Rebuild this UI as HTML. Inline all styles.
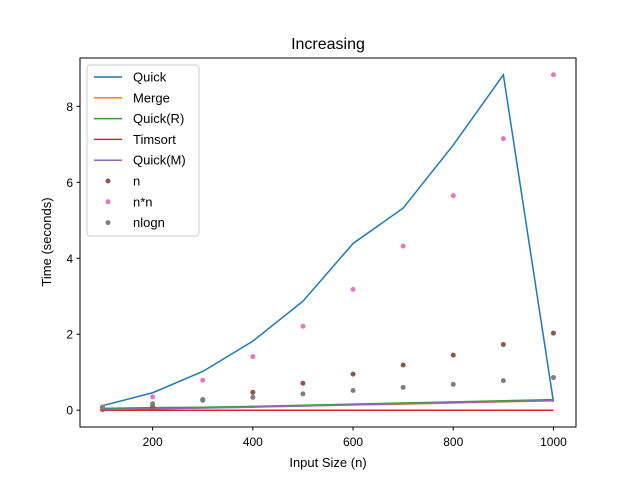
<!DOCTYPE html>
<html><head><meta charset="utf-8"><style>
body{margin:0;background:#fff}
svg{font-family:"Liberation Sans","DejaVu Sans",sans-serif}
</style></head><body>
<svg id="chart" width="640" height="480">
<rect width="640" height="480" fill="#fff"/>
<text x="328" y="49" text-anchor="middle" font-size="16">Increasing</text>
<g id="plot"></g>
<rect x="80" y="58" width="496" height="369" fill="none" stroke="#000" stroke-width="1"/>
<text x="328" y="467" text-anchor="middle" font-size="13">Input Size (n)</text>
<text transform="translate(51,242) rotate(-90)" text-anchor="middle" font-size="13">Time (seconds)</text>
<g id="legend"></g>
</svg>
<script>
const xs=[100,200,300,400,500,600,700,800,900,1000];
const quick=[0.12,0.46,1.02,1.82,2.87,4.39,5.32,6.98,8.83,0.22];
const merge=[0.02,0.04,0.06,0.09,0.11,0.14,0.16,0.19,0.22,0.25];
const quickR=[0.05,0.07,0.08,0.1,0.13,0.16,0.19,0.22,0.25,0.28];
const timsort=[0,0,0,0,0,0,0,0,0,0];
const quickM=[0.02,0.04,0.06,0.08,0.11,0.14,0.17,0.2,0.23,0.25];
const nDots=[0.02,0.1,0.28,0.47,0.71,0.95,1.19,1.45,1.73,2.03];
const nnDots=[0.09,0.35,0.79,1.41,2.21,3.18,4.32,5.65,7.15,8.83];
const nlognDots=[0.07,0.17,0.26,0.34,0.43,0.52,0.6,0.68,0.78,0.86];
const xTicks=[200,400,600,800,1000];
const yTicks=[0,2,4,6,8];
const X0=80,X1=576,Y0=427,Y1=58,xmin=55,xmax=1045,ymin=-0.4415,ymax=9.2715;
const sx=v=>X0+(v-xmin)/(xmax-xmin)*(X1-X0);
const sy=v=>Y0-(v-ymin)/(ymax-ymin)*(Y0-Y1);
const NS="http://www.w3.org/2000/svg";
const plot=document.getElementById('plot'),svg=document.getElementById('chart'),leg=document.getElementById('legend');
function mk(t,a,p){const e=document.createElementNS(NS,t);for(const k in a)e.setAttribute(k,a[k]);(p||plot).appendChild(e);return e;}
xTicks.forEach(t=>{const x=sx(t);
 const l=mk('line',{x1:x,x2:x,y1:427,y2:430.5,stroke:'#000'},svg);
 
 
 const tx=mk('text',{x:x,y:446,'text-anchor':'middle','font-size':12},svg);tx.textContent=t;
 
 });
yTicks.forEach(t=>{const y=sy(t);
 const l=mk('line',{x1:76.5,x2:80,y1:y,y2:y,stroke:'#000'},svg);
 
 
 const tx=mk('text',{x:73,y:y+4.5,'text-anchor':'end','font-size':12},svg);tx.textContent=t;
 
 });
const lines=[['Quick',quick,'#1f77b4'],['Merge',merge,'#ff7f0e'],['Quick(R)',quickR,'#2ca02c'],['Timsort',timsort,'#d62728'],['Quick(M)',quickM,'#9467bd']];
const dots=[['n',nDots,'#8c564b'],['n*n',nnDots,'#e377c2'],['nlogn',nlognDots,'#7f7f7f']];
lines.forEach(([n,d,c])=>{const p=mk('polyline',{points:xs.map((x,i)=>sx(x)+','+sy(d[i])).join(' '),fill:'none',stroke:c,'stroke-width':1.5});
 
 });
dots.forEach(([n,d,c])=>{xs.forEach((x,i)=>{const e=mk('circle',{cx:sx(x),cy:sy(d[i]),r:2.5,fill:c});
 
 });});
const lb=mk('rect',{x:87,y:65,width:112,height:171,rx:3,fill:'#fff','fill-opacity':0.8,stroke:'#ccc'},leg);


[...lines,...dots].forEach(([n,d,c],i)=>{const y=77+i*20.8;
 const g=mk('g',{},leg);
 
 
 if(i<5)mk('line',{x1:94,x2:122,y1:y,y2:y,stroke:c,'stroke-width':1.5},g);
 else mk('circle',{cx:108,cy:y,r:2.5,fill:c},g);
 const t=mk('text',{x:133,y:y+4.5,'font-size':13},g);t.textContent=n;});
</script>
</body></html>
